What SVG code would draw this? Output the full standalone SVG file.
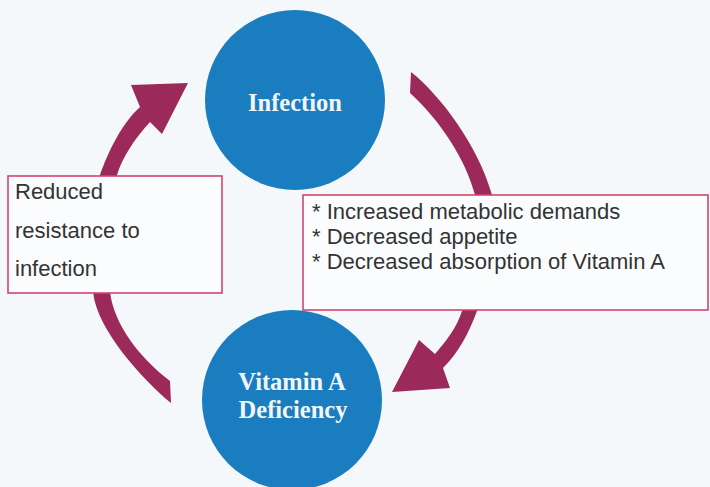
<svg xmlns="http://www.w3.org/2000/svg" width="710" height="487" viewBox="0 0 710 487">
<style>
.bg{fill:#f4f8fa}
.circle{fill:#1a7dbf}
.ctext{font-family:"Liberation Serif","Times New Roman",serif;font-weight:bold;font-size:24.5px;fill:#f2f6f8;text-anchor:middle}
.box{fill:#fbfcfd;stroke:#d2456f;stroke-width:1.6}
.btext{font-family:"Liberation Sans",Arial,sans-serif;font-size:22px;fill:#333}
.arrow{fill:#9b2a5b}
</style>
<rect class="bg" x="0" y="0" width="710" height="487"/>
<g id="connectors">
<path id="arrow-infection-to-deficiency" class="arrow" d="M 411,72 C 440,95 478,145 492,195 C 502,232 490,280 477,311 C 468,335 458,353 443,368 L 450,388 L 392,392 L 419,340 L 435,354 C 447,340 457,327 462,311 C 472,280 484,235 475,195 C 466,160 440,120 410,93 Z"/>
<path id="arrow-deficiency-to-infection" class="arrow" d="M 171,403 C 143,380 97,330 93,292 C 89,260 92,205 100,175 C 108,152 122,123 140,107 L 131,85 L 188,83 L 162,134 L 150,122 C 135,138 122,158 117,175 C 111,200 106,255 110,292 C 114,325 140,358 170,381 Z"/>
</g>
<g id="node-infection">
<circle class="circle" cx="295" cy="100" r="90"/>
<text class="ctext" x="295" y="111">Infection</text>
</g>
<g id="node-vitamin-a-deficiency">
<circle class="circle" cx="292" cy="400" r="90"/>
<text class="ctext" x="292" y="390">Vitamin A</text>
<text class="ctext" x="293" y="418">Deficiency</text>
</g>
<g id="node-reduced-resistance">
<rect class="box" x="8" y="176" width="214" height="117"/>
<text class="btext" x="15" y="199" font-size="21.5">Reduced</text>
<text class="btext" x="15" y="238" font-size="21.5">resistance to</text>
<text class="btext" x="15" y="276" font-size="21.5">infection</text>
</g>
<g id="node-infection-effects">
<rect class="box" x="303" y="195" width="405" height="115"/>
<text class="btext" x="312" y="219">* Increased metabolic demands</text>
<text class="btext" x="312" y="244">* Decreased appetite</text>
<text class="btext" x="312" y="269">* Decreased absorption of Vitamin A</text>
</g>
</svg>
